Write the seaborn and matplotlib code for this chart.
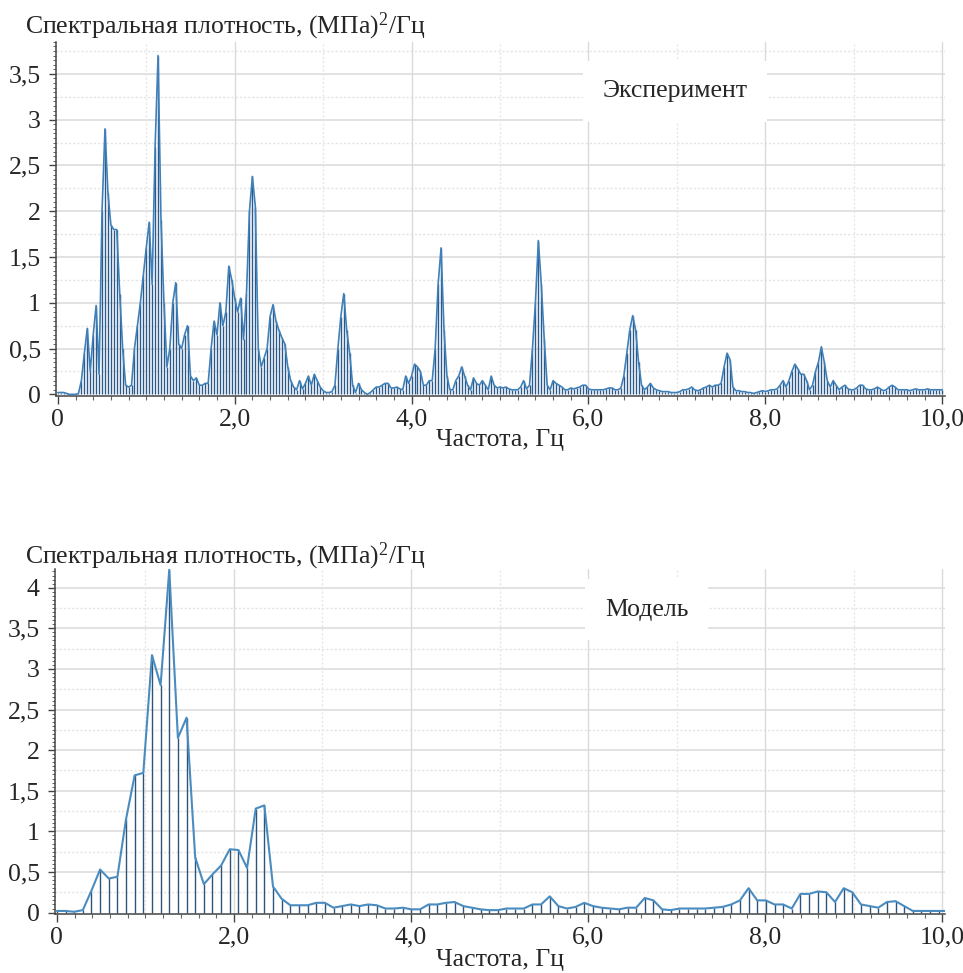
import numpy as np
import pandas as pd
import matplotlib
matplotlib.use("Agg")
import matplotlib.pyplot as plt
from matplotlib.ticker import MultipleLocator
import seaborn as sns

sns.set_style("white")
plt.rcParams["font.family"] = ["Liberation Serif", "DejaVu Serif"]
plt.rcParams["mathtext.fontset"] = "custom"
plt.rcParams["mathtext.rm"] = "Liberation Serif"
plt.rcParams["mathtext.it"] = "Liberation Serif:italic"

# ---------------- data ----------------
exp_step = 1 / 30          # Hz, frequency resolution of the experimental spectrum
exp_psd = [
    0.02, 0.02, 0.02, 0.01, 0.0, 0.0, 0.0, 0.01, 0.15, 0.45,
    0.72, 0.25, 0.65, 0.97, 0.22, 2.0, 2.9, 2.2, 1.85, 1.8,
    1.8, 1.1, 0.5, 0.1, 0.08, 0.1, 0.5, 0.75, 1.0, 1.3,
    1.6, 1.88, 1.2, 2.7, 3.7, 1.9, 1.0, 0.3, 0.5, 1.0,
    1.22, 0.55, 0.5, 0.65, 0.75, 0.2, 0.15, 0.18, 0.1, 0.1,
    0.12, 0.12, 0.5, 0.8, 0.65, 1.0, 0.75, 0.9, 1.4, 1.25,
    1.05, 0.9, 1.05, 0.6, 1.1, 2.0, 2.38, 2.05, 0.5, 0.3,
    0.4, 0.5, 0.85, 0.98, 0.8, 0.7, 0.62, 0.55, 0.3, 0.15,
    0.08, 0.05, 0.15, 0.06, 0.12, 0.2, 0.1, 0.22, 0.15, 0.08,
    0.04, 0.02, 0.02, 0.03, 0.1, 0.5, 0.85, 1.1, 0.7, 0.45,
    0.1, 0.02, 0.12, 0.05, 0.02, 0.0, 0.02, 0.05, 0.08, 0.08,
    0.1, 0.12, 0.12, 0.07, 0.07, 0.08, 0.06, 0.05, 0.2, 0.12,
    0.2, 0.33, 0.3, 0.25, 0.1, 0.1, 0.15, 0.15, 0.5, 1.2,
    1.6, 0.7, 0.2, 0.05, 0.05, 0.15, 0.2, 0.3, 0.2, 0.1,
    0.05, 0.18, 0.12, 0.1, 0.15, 0.1, 0.05, 0.2, 0.1, 0.07,
    0.08, 0.07, 0.08, 0.06, 0.05, 0.05, 0.05, 0.08, 0.15, 0.06,
    0.1, 0.5, 1.0, 1.68, 1.2, 0.6, 0.1, 0.05, 0.15, 0.12,
    0.1, 0.08, 0.05, 0.05, 0.07, 0.06, 0.07, 0.08, 0.1, 0.1,
    0.06, 0.05, 0.05, 0.05, 0.05, 0.05, 0.06, 0.07, 0.07, 0.05,
    0.05, 0.07, 0.2, 0.45, 0.7, 0.86, 0.7, 0.35, 0.1, 0.05,
    0.08, 0.12, 0.07, 0.05, 0.04, 0.03, 0.03, 0.03, 0.02, 0.02,
    0.02, 0.03, 0.05, 0.05, 0.06, 0.08, 0.05, 0.04, 0.05, 0.07,
    0.08, 0.1, 0.08, 0.1, 0.1, 0.12, 0.3, 0.45, 0.38, 0.08,
    0.04, 0.04, 0.03, 0.03, 0.02, 0.02, 0.01, 0.02, 0.03, 0.04,
    0.03, 0.04, 0.05, 0.05, 0.06, 0.1, 0.15, 0.08, 0.15, 0.25,
    0.33, 0.28, 0.22, 0.22, 0.15, 0.05, 0.1, 0.25, 0.35, 0.52,
    0.35, 0.15, 0.08, 0.15, 0.1, 0.05, 0.08, 0.1, 0.06, 0.05,
    0.05, 0.07, 0.1, 0.1, 0.06, 0.05, 0.05, 0.06, 0.08, 0.06,
    0.04, 0.05, 0.08, 0.1, 0.08, 0.05, 0.05, 0.05, 0.05, 0.04,
    0.05, 0.06, 0.05, 0.05, 0.05, 0.06, 0.05, 0.05, 0.05, 0.05,
    0.05,
]

model_step = 100 / 1024    # Hz, frequency resolution of the model spectrum
model_psd = [
    0.02, 0.02, 0.01, 0.03, 0.27, 0.53, 0.42, 0.44, 1.15, 1.69,
    1.72, 3.17, 2.8, 4.22, 2.15, 2.4, 0.68, 0.35, 0.47, 0.58,
    0.78, 0.77, 0.55, 1.28, 1.32, 0.32, 0.17, 0.09, 0.09, 0.09,
    0.12, 0.12, 0.06, 0.08, 0.1, 0.08, 0.1, 0.09, 0.05, 0.05,
    0.06, 0.04, 0.04, 0.1, 0.1, 0.12, 0.13, 0.08, 0.06, 0.04,
    0.03, 0.03, 0.05, 0.05, 0.05, 0.1, 0.1, 0.2, 0.08, 0.05,
    0.07, 0.12, 0.08, 0.06, 0.05, 0.04, 0.06, 0.06, 0.18, 0.15,
    0.04, 0.03, 0.05, 0.05, 0.05, 0.05, 0.06, 0.07, 0.1, 0.15,
    0.3, 0.15, 0.15, 0.1, 0.1, 0.05, 0.23, 0.23, 0.26, 0.25,
    0.13, 0.3, 0.25, 0.1, 0.08, 0.06, 0.13, 0.14, 0.08, 0.02,
    0.02, 0.02, 0.02, 0.02,
]

x_ticks = [0, 2, 4, 6, 8, 10]
x_ticklabels = ["0", "2,0", "4,0", "6,0", "8,0", "10,0"]
y_ticks_exp = [0, 0.5, 1, 1.5, 2, 2.5, 3, 3.5]
y_ticklabels_exp = ["0", "0,5", "1", "1,5", "2", "2,5", "3", "3,5"]
y_ticks_model = [0, 0.5, 1, 1.5, 2, 2.5, 3, 3.5, 4]
y_ticklabels_model = ["0", "0,5", "1", "1,5", "2", "2,5", "3", "3,5", "4"]

y_title = "Спектральная плотность, (МПа)$^{2}$/Гц"
x_title = "Частота, Гц"
label_exp = "Эксперимент"
label_model = "Модель"

exp = pd.DataFrame({"f": np.arange(len(exp_psd)) * exp_step, "psd": exp_psd})
model = pd.DataFrame({"f": np.arange(len(model_psd)) * model_step, "psd": model_psd})

FS = 18.5
fig = plt.figure(figsize=(9.63, 9.73), dpi=100)
ax1 = fig.add_axes([0.0582, 0.593, 0.923, 0.364])
ax2 = fig.add_axes([0.0572, 0.0606, 0.924, 0.3546])


def draw(ax, df, ytop, yticks, ylabels, label, lx, ly, stem_c, line_c, stem_lw, line_lw):
    ax.set_xlim(-0.02, 10.03)
    ax.set_ylim(-0.018, ytop)
    # grid
    for v in np.arange(0.25, ytop, 0.5):
        ax.axhline(v, color="#e3e3e3", lw=1.0, ls=(0, (1.5, 1.5)), zorder=0)
    for v in np.arange(0.5, ytop, 0.5):
        ax.axhline(v, color="#dadada", lw=1.1, zorder=0)
    for v in range(1, 11, 2):
        ax.axvline(v, color="#e6e6e6", lw=1.0, ls=(0, (1.5, 1.5)), zorder=0)
    for v in range(2, 11, 2):
        ax.axvline(v, color="#dadada", lw=1.0, zorder=0)
    # stems + curve
    ax.vlines(df["f"], 0, df["psd"], colors=stem_c, lw=stem_lw, zorder=2)
    sns.lineplot(data=df, x="f", y="psd", ax=ax, color=line_c, lw=line_lw,
                 estimator=None, zorder=3)
    ax.set_xlabel("")
    ax.set_ylabel("")
    ax.set_xticks(x_ticks)
    ax.set_xticklabels(x_ticklabels, fontsize=FS)
    ax.set_yticks(yticks)
    ax.set_yticklabels(ylabels, fontsize=FS)
    ax.xaxis.set_minor_locator(MultipleLocator(0.2))
    ax.yaxis.set_minor_locator(MultipleLocator(0.05))
    ax.tick_params(axis="x", which="major", direction="out", length=6, width=1,
                   color="#444444", pad=3, bottom=True)
    ax.tick_params(axis="x", which="minor", direction="out", length=3, width=0.8,
                   color="#666666", bottom=True)
    ax.tick_params(axis="y", which="major", direction="out", length=5, width=1,
                   color="#444444", pad=6, left=True)
    ax.tick_params(axis="y", which="minor", direction="out", length=2.5, width=0.7,
                   color="#666666", left=True)
    for s in ["top", "right"]:
        ax.spines[s].set_visible(False)
    for s in ["left", "bottom"]:
        ax.spines[s].set_color("#444444")
        ax.spines[s].set_linewidth(1.1)
    ax.text(lx, ly, label, fontsize=FS, ha="left", va="center", zorder=5,
            bbox=dict(facecolor="white", edgecolor="none", pad=14))


draw(ax1, exp, 3.85, y_ticks_exp, y_ticklabels_exp, label_exp, 6.16, 3.31,
     "#2a5a8c", "#3f80b8", 1.0, 1.2)
draw(ax2, model, 4.23, y_ticks_model, y_ticklabels_model, label_model, 6.19, 3.73,
     "#2e5378", "#4a8cc0", 1.0, 1.5)

fig.text(25 / 963, 1 - 33 / 973, y_title, fontsize=FS, ha="left", va="baseline")
fig.text(25 / 963, 1 - 563 / 973, y_title, fontsize=FS, ha="left", va="baseline")
fig.text(500 / 963, 1 - 440 / 973, x_title, fontsize=FS, ha="center", va="center")
fig.text(500 / 963, 1 - 960 / 973, x_title, fontsize=FS, ha="center", va="center")

fig.savefig("out.png", dpi=100, facecolor="white")
